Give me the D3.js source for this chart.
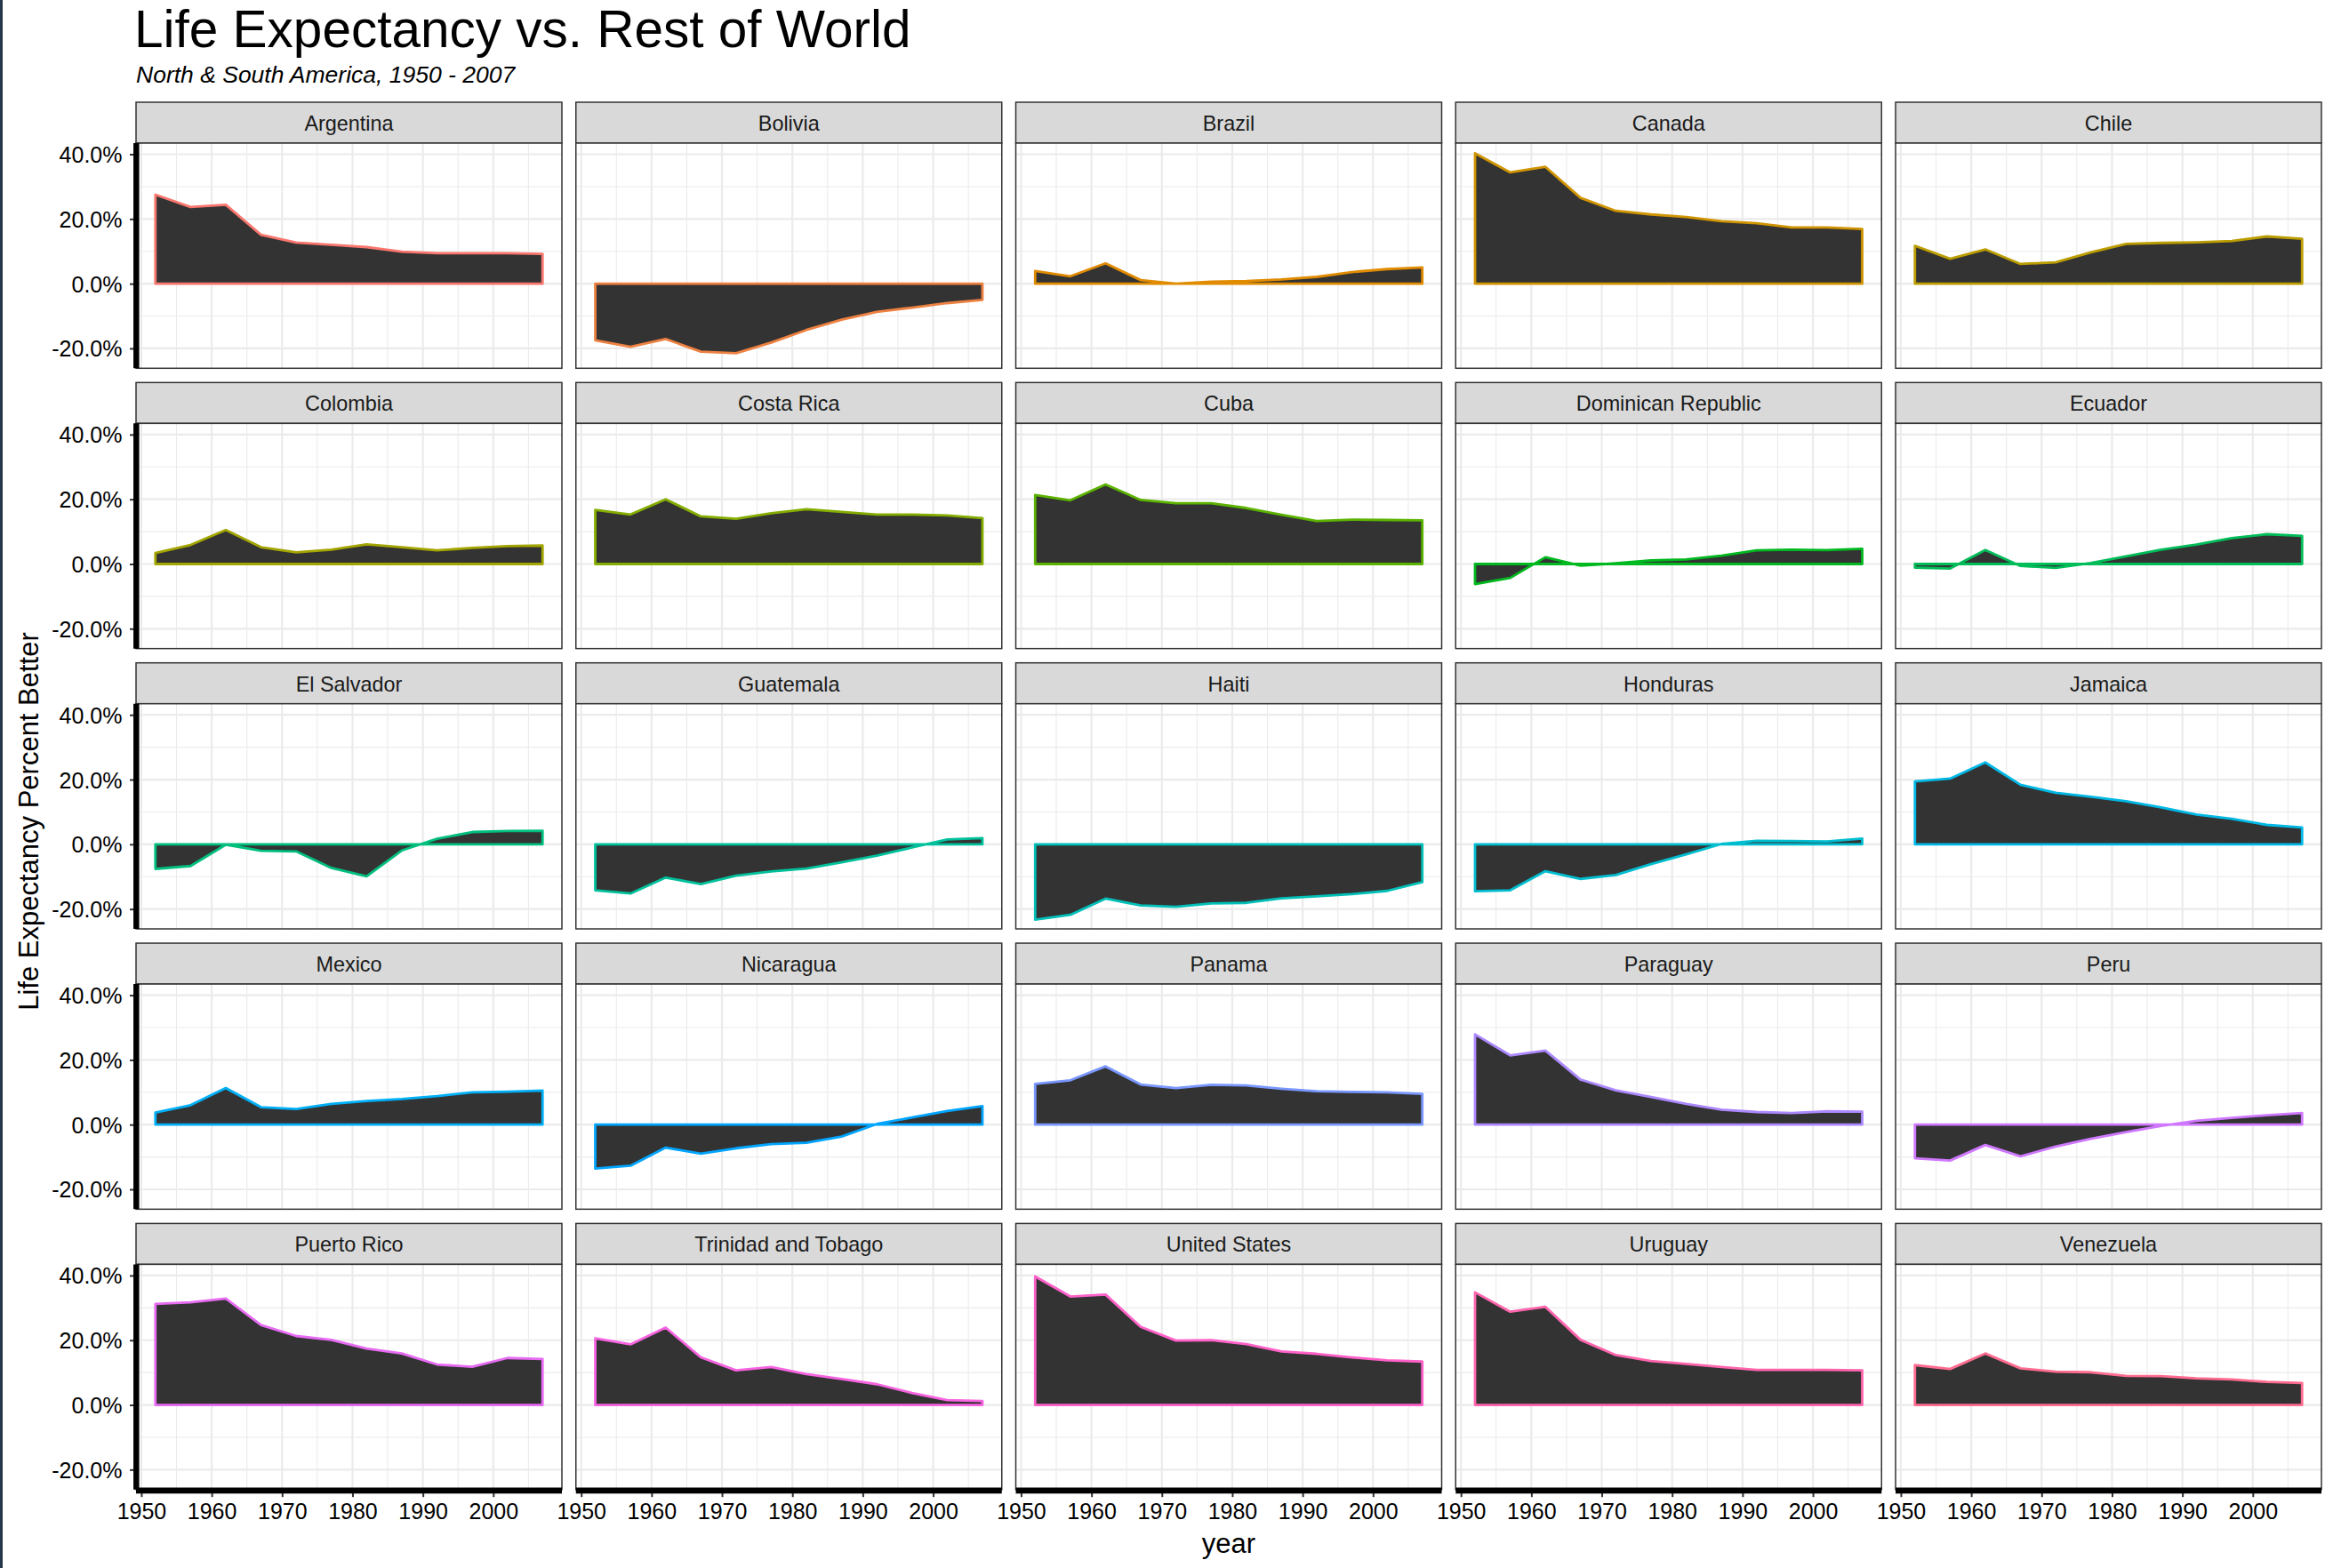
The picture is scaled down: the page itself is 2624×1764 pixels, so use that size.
<!DOCTYPE html>
<html>
<head>
<meta charset="utf-8">
<script src="https://cdn.jsdelivr.net/npm/d3@7"></script>
<style>
  html, body { margin: 0; padding: 0; background: #ffffff; }
  svg { display: block; }
</style>
</head>
<body>
<svg id="chart" width="2624" height="1764"></svg>
<script>
// ---------------- DATA ----------------
const years = [1952, 1957, 1962, 1967, 1972, 1977, 1982, 1987, 1992, 1997, 2002, 2007];
const countries = ["Argentina", "Bolivia", "Brazil", "Canada", "Chile",
  "Colombia", "Costa Rica", "Cuba", "Dominican Republic", "Ecuador",
  "El Salvador", "Guatemala", "Haiti", "Honduras", "Jamaica",
  "Mexico", "Nicaragua", "Panama", "Paraguay", "Peru",
  "Puerto Rico", "Trinidad and Tobago", "United States", "Uruguay", "Venezuela"];

// life expectancy, percent better than rest of world
const argentina = [27.5, 23.7, 24.4, 15.1, 12.7, 12.0, 11.3, 9.9, 9.4, 9.4, 9.4, 9.2];
const bolivia = [-17.5, -19.5, -17.1, -21.0, -21.5, -18.2, -14.3, -11.1, -8.7, -7.4, -6.0, -5.0];
const brazil = [3.9, 2.3, 6.3, 1.1, 0.0, 0.6, 0.8, 1.3, 2.1, 3.6, 4.5, 5.0];
const canada = [40.3, 34.4, 36.1, 26.5, 22.5, 21.4, 20.6, 19.3, 18.7, 17.4, 17.4, 16.9];
const chile = [11.7, 7.7, 10.6, 6.1, 6.6, 9.7, 12.3, 12.6, 12.8, 13.2, 14.6, 13.9];
const colombia = [3.4, 5.9, 10.5, 5.2, 3.6, 4.4, 6.1, 5.2, 4.2, 5.0, 5.5, 5.7];
const costaRica = [16.7, 15.3, 20.0, 14.7, 14.0, 15.7, 16.9, 16.1, 15.3, 15.3, 15.0, 14.2];
const cuba = [21.3, 19.7, 24.6, 19.8, 18.8, 18.8, 17.3, 15.2, 13.3, 13.7, 13.6, 13.5];
const dominicanRepublic = [-6.2, -4.3, 2.1, -0.5, 0.2, 1.1, 1.4, 2.6, 4.2, 4.4, 4.3, 4.7];
const ecuador = [-1.1, -1.4, 4.3, -0.6, -1.2, 0.3, 2.4, 4.4, 6.0, 8.0, 9.2, 8.7];
const elSalvador = [-7.6, -6.7, -0.1, -2.0, -2.2, -7.3, -9.9, -1.9, 1.7, 3.8, 4.1, 4.2];
const guatemala = [-14.2, -15.2, -10.3, -12.3, -9.7, -8.4, -7.5, -5.6, -3.5, -1.0, 1.5, 1.9];
const haiti = [-23.3, -21.8, -16.8, -18.9, -19.3, -18.3, -18.1, -16.7, -16.1, -15.4, -14.4, -11.7];
const honduras = [-14.5, -14.2, -8.3, -10.7, -9.5, -6.1, -3.1, 0.1, 1.1, 1.0, 0.9, 1.8];
const jamaica = [19.4, 20.3, 25.3, 18.4, 15.9, 14.7, 13.3, 11.4, 9.2, 7.9, 6.0, 5.2];
const mexico = [3.7, 6.0, 11.3, 5.4, 4.8, 6.4, 7.3, 7.9, 8.8, 10.0, 10.2, 10.5];
const nicaragua = [-13.6, -12.7, -7.1, -9.0, -7.3, -6.0, -5.6, -3.7, 0.2, 2.2, 4.2, 5.7];
const panama = [12.6, 13.7, 18.0, 12.4, 11.3, 12.3, 12.1, 11.1, 10.3, 10.1, 10.0, 9.5];
const paraguay = [27.9, 21.4, 22.9, 13.9, 10.6, 8.5, 6.4, 4.6, 3.9, 3.6, 4.1, 4.0];
const peru = [-10.4, -11.1, -6.3, -9.8, -6.8, -4.4, -2.3, -0.4, 1.2, 2.1, 2.9, 3.6];
const puertoRico = [31.2, 31.7, 32.9, 24.7, 21.3, 20.1, 17.4, 15.9, 12.5, 11.8, 14.5, 14.2];
const trinidadAndTobago = [20.6, 18.7, 23.9, 14.7, 10.7, 11.7, 9.5, 8.0, 6.4, 3.7, 1.5, 1.2];
const unitedStates = [39.7, 33.5, 34.1, 24.1, 19.9, 20.0, 18.8, 16.5, 15.8, 14.7, 13.8, 13.4];
const uruguay = [34.8, 28.8, 30.3, 20.1, 15.4, 13.6, 12.7, 11.7, 10.8, 10.8, 10.8, 10.7];
const venezuela = [12.3, 11.1, 15.9, 11.3, 10.3, 10.1, 9.0, 8.9, 8.2, 7.9, 7.1, 6.8];

const series = [argentina, bolivia, brazil, canada, chile,
  colombia, costaRica, cuba, dominicanRepublic, ecuador,
  elSalvador, guatemala, haiti, honduras, jamaica,
  mexico, nicaragua, panama, paraguay, peru,
  puertoRico, trinidadAndTobago, unitedStates, uruguay, venezuela];

const xTickValues = [1950, 1960, 1970, 1980, 1990, 2000];
const xTickLabels = ["1950", "1960", "1970", "1980", "1990", "2000"];
const xMinorValues = [1955, 1965, 1975, 1985, 1995, 2005];
const yTickValues = [-20, 0, 20, 40];
const yTickLabels = ["-20.0%", "0.0%", "20.0%", "40.0%"];
const yMinorValues = [-10, 10, 30];

const titleText = "Life Expectancy vs. Rest of World";
const subtitleText = "North & South America, 1950 - 2007";
const xTitleText = "year";
const yTitleText = "Life Expectancy Percent Better";

// ---------------- LAYOUT ----------------
const FONT = "'Liberation Sans', Arial, Helvetica, sans-serif";
const svg = d3.select("#chart");
const W = 2624, H = 1764;
const areaLeft = 153, areaRight = 2611, areaTop = 115, areaBottom = 1675.7;
const ncol = 5, nrow = 5, stripH = 46;
const colGap = 15.75, rowGap = 16.05;
const pw = (areaRight - areaLeft - (ncol - 1) * colGap) / ncol;
const rowH = (areaBottom - areaTop - (nrow - 1) * rowGap) / nrow;
const ph = rowH - stripH;

// ggplot-style hue palette (polar LUV -> sRGB)
function hclToHex(h, c, l) {
  const hr = h * Math.PI / 180;
  const u = c * Math.cos(hr), v = c * Math.sin(hr);
  const Xn = 95.047, Yn = 100, Zn = 108.883;
  const den = Xn + 15 * Yn + 3 * Zn;
  const un = 4 * Xn / den, vn = 9 * Yn / den;
  const Y = l > 8 ? Yn * Math.pow((l + 16) / 116, 3) : Yn * l / 903.3;
  const up = u / (13 * l) + un, vp = v / (13 * l) + vn;
  const X = Y * 9 * up / (4 * vp);
  const Z = Y * (12 - 3 * up - 20 * vp) / (4 * vp);
  const x = X / 100, y = Y / 100, z = Z / 100;
  const lin = [
    3.240479 * x - 1.537150 * y - 0.498535 * z,
    -0.969256 * x + 1.875992 * y + 0.041556 * z,
    0.055648 * x - 0.204043 * y + 1.057311 * z
  ];
  const out = lin.map(t => {
    let g = t <= 0.0031308 ? 12.92 * t : 1.055 * Math.pow(t, 1 / 2.4) - 0.055;
    g = Math.max(0, Math.min(1, g));
    return Math.round(g * 255);
  });
  return d3.rgb(out[0], out[1], out[2]).formatHex();
}
const colors = countries.map((_, i) => hclToHex(15 + i * 360 / countries.length, 100, 65));

const x = d3.scaleLinear().domain([1949.25, 2009.75]).range([0, pw]);
const y = d3.scaleLinear().domain([-26.14, 43.44]).range([ph, 0]);

// background
svg.append("rect").attr("x", 0).attr("y", 0).attr("width", W).attr("height", H).attr("fill", "#ffffff");
svg.append("rect").attr("x", 0).attr("y", 0).attr("width", 3).attr("height", H).attr("fill", "#25374b");

// titles
svg.append("text").attr("x", 151).attr("y", 53.3)
  .attr("font-family", FONT).attr("font-size", 58.5).attr("fill", "#000")
  .text(titleText);
svg.append("text").attr("x", 153).attr("y", 93.3)
  .attr("font-family", FONT).attr("font-size", 26.5).attr("font-style", "italic").attr("fill", "#000")
  .text(subtitleText);

const areaGen = d3.area()
  .x((d) => x(d.year))
  .y0(y(0))
  .y1((d) => y(d.value));

countries.forEach((name, i) => {
  const c = i % ncol, r = Math.floor(i / ncol);
  const gx = areaLeft + c * (pw + colGap);
  const gy = areaTop + r * (rowH + rowGap);
  const g = svg.append("g").attr("transform", `translate(${gx},${gy})`);

  // strip
  g.append("rect").attr("x", 0).attr("y", 0).attr("width", pw).attr("height", stripH)
    .attr("fill", "#D9D9D9").attr("stroke", "#333333").attr("stroke-width", 1.5);
  g.append("text").attr("x", pw / 2).attr("y", 32)
    .attr("text-anchor", "middle").attr("font-family", FONT).attr("font-size", 23.4)
    .attr("fill", "#1A1A1A").text(name);

  const p = g.append("g").attr("transform", `translate(0,${stripH})`);
  p.append("rect").attr("width", pw).attr("height", ph).attr("fill", "#ffffff");

  // grid
  const grid = p.append("g");
  grid.selectAll("line.ymin").data(yMinorValues).join("line")
    .attr("x1", 0).attr("x2", pw).attr("y1", d => y(d)).attr("y2", d => y(d))
    .attr("stroke", "#EBEBEB").attr("stroke-width", 1.1);
  grid.selectAll("line.xmin").data(xMinorValues).join("line")
    .attr("y1", 0).attr("y2", ph).attr("x1", d => x(d)).attr("x2", d => x(d))
    .attr("stroke", "#EBEBEB").attr("stroke-width", 1.1);
  grid.selectAll("line.ymaj").data(yTickValues).join("line")
    .attr("x1", 0).attr("x2", pw).attr("y1", d => y(d)).attr("y2", d => y(d))
    .attr("stroke", "#EBEBEB").attr("stroke-width", 2.2);
  grid.selectAll("line.xmaj").data(xTickValues).join("line")
    .attr("y1", 0).attr("y2", ph).attr("x1", d => x(d)).attr("x2", d => x(d))
    .attr("stroke", "#EBEBEB").attr("stroke-width", 2.2);

  // area
  const pts = years.map((yr, k) => ({ year: yr, value: series[i][k] }));
  p.append("path").datum(pts).attr("d", areaGen)
    .attr("fill", "#333333").attr("stroke", colors[i])
    .attr("stroke-width", 2.8).attr("stroke-linejoin", "round");

  // panel border
  p.append("rect").attr("width", pw).attr("height", ph)
    .attr("fill", "none").attr("stroke", "#333333").attr("stroke-width", 1.5);

  // left axis
  if (c === 0) {
    const ax = p.append("g").call(
      d3.axisLeft(y).tickValues(yTickValues)
        .tickFormat((d, k) => yTickLabels[k]).tickSize(7).tickPadding(8.5));
    ax.select(".domain").remove();
    ax.selectAll(".tick line").attr("stroke", "#333333").attr("stroke-width", 2);
    ax.selectAll(".tick text").attr("font-family", FONT).attr("font-size", 25)
      .attr("fill", "#000").attr("dy", "0.36em");
    p.append("line").attr("x1", 0.3).attr("x2", 0.3).attr("y1", 0).attr("y2", ph)
      .attr("stroke", "#000").attr("stroke-width", 6.5);
  }
  // bottom axis
  if (r === nrow - 1) {
    const ax = p.append("g").attr("transform", `translate(0,${ph})`).call(
      d3.axisBottom(x).tickValues(xTickValues)
        .tickFormat((d, k) => xTickLabels[k]).tickSize(8.5).tickPadding(7.35));
    ax.select(".domain").remove();
    ax.selectAll(".tick line").attr("stroke", "#333333").attr("stroke-width", 2);
    ax.selectAll(".tick text").attr("font-family", FONT).attr("font-size", 25).attr("fill", "#000");
    p.append("line").attr("x1", 0).attr("x2", pw).attr("y1", ph + 1.2).attr("y2", ph + 1.2)
      .attr("stroke", "#000").attr("stroke-width", 6.8);
  }
});

// axis titles
svg.append("text").attr("x", (areaLeft + areaRight) / 2).attr("y", 1747.3)
  .attr("text-anchor", "middle").attr("font-family", FONT).attr("font-size", 31).attr("fill", "#000")
  .text(xTitleText);
svg.append("text").attr("transform", "translate(42.7,924) rotate(-90)")
  .attr("text-anchor", "middle").attr("font-family", FONT).attr("font-size", 31).attr("fill", "#000")
  .text(yTitleText);
</script>
</body>
</html>
